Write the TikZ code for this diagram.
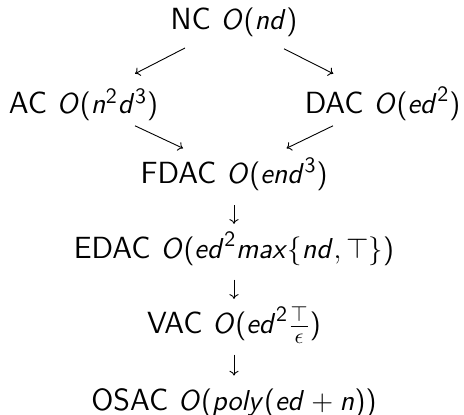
\documentclass[tikz,border=0pt]{standalone}
\usetikzlibrary{arrows.meta,calc}
% sans-serif math: slanted sans letters, upright sans digits and delimiters
\DeclareMathAlphabet{\sfit}{OT1}{cmss}{m}{sl}
\SetSymbolFont{operators}{normal}{OT1}{cmss}{m}{n}
\tikzset{
  lbl/.style={inner sep=0pt, anchor=base, text height=9pt, text depth=3pt,
              font=\fontsize{15.3}{18}\selectfont\sffamily},
  arr/.style={line width=0.45pt, -{Computer Modern Rightarrow[length=2.4pt,width=4.6pt]}},
  down/.style={arr, shorten <=7.5pt, shorten >=8pt}
}
\begin{document}
\begin{tikzpicture}[x=0.5pt, y=-0.5pt]
\useasboundingbox (0,0) rectangle (464,415);

% complexity lattice
\node[lbl] (nc)   at (234,29.3)  {NC $\sfit{O}(\sfit{nd})$};
\node[lbl] (ac)   at (83.5,113.5) {AC $\sfit{O}(\sfit{n}^2\sfit{d}^3)$};
\node[lbl] (dac)  at (382.5,113.5) {DAC $\sfit{O}(\sfit{ed}^2)$};
\node[lbl] (fdac) at (234,184)   {FDAC $\sfit{O}(\sfit{end}^3)$};
\node[lbl] (edac) at (234,258.3) {EDAC $\sfit{O}(\sfit{ed}^2\sfit{max}\{\sfit{nd},\top\})$};
\node[lbl] (vac)  at (234,333.3) {VAC $\sfit{O}(\sfit{ed}^2\frac{\top}{\epsilon})$};
\node[lbl] (osac) at (234,410)   {OSAC $\sfit{O}(\sfit{poly}(\sfit{ed}+\sfit{n}))$};

% diagonal arrows
\draw[arr] ($(nc.base)+(-49,18.7)$) -- ($(ac.base)+(51.5,-39.8)$);
\draw[arr] ($(nc.base)+(50,19.5)$) -- ($(dac.base)+(-49.2,-39.8)$);
\draw[arr] ($(ac.base)+(51.5,12.3)$) -- ($(fdac.base)+(-51,-35.7)$);
\draw[arr] ($(dac.base)+(-49.5,12.3)$) -- ($(fdac.base)+(52.5,-35.7)$);

% vertical chain
\draw[down] (fdac) -- (edac);
\draw[down] (edac) -- (vac);
\draw[down] (vac) -- (osac);
\end{tikzpicture}
\end{document}
